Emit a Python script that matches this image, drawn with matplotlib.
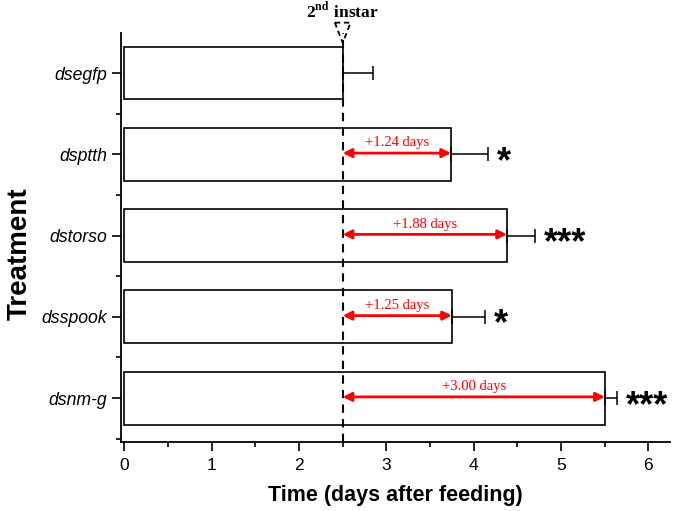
import numpy as np
import matplotlib.pyplot as plt
from matplotlib.ticker import MultipleLocator, FixedLocator

plt.rcParams['mathtext.fontset'] = 'stix'

treatments = ['dsegfp', 'dsptth', 'dstorso', 'dsspook', 'dsnm-g']
days = [2.5, 3.74, 4.38, 3.75, 5.5]
errors = [0.35, 0.42, 0.32, 0.38, 0.14]
delays = ['', '+1.24 days', '+1.88 days', '+1.25 days', '+3.00 days']
stars = ['', '*', '***', '*', '***']
instar_day = 2.5

fig = plt.figure(figsize=(6.75, 5.11), dpi=100)
ax = fig.add_axes([0.179, 0.135, 0.814, 0.80])

pos = np.arange(len(treatments))[::-1]
ax.barh(pos, days, height=0.65, color='white', edgecolor='black', linewidth=1.2, zorder=2)

# one-sided error bars
ax.errorbar(days, pos, xerr=[np.zeros(len(errors)), errors], fmt='none',
            ecolor='black', elinewidth=1.1, capsize=5, capthick=1.1, zorder=3)

# 2nd instar reference line with dashed triangle on top
ax.axvline(instar_day, color='black', linestyle=(0, (4, 3)), linewidth=1.5, zorder=4)
tri_x = [instar_day - 0.09, instar_day + 0.09, instar_day, instar_day - 0.09]
tri_y = [4.62, 4.62, 4.37, 4.62]
ax.plot(tri_x, tri_y, color='black', linestyle=(0, (3, 2)), linewidth=1.3,
        clip_on=False, zorder=5)
ax.text(instar_day, 4.68, r'2$^{\mathbf{nd}}$ instar', ha='center', va='baseline',
        fontsize=12.5, fontweight='bold', family='Liberation Serif',
        clip_on=False)

for p, d, e, lab, st in zip(pos, days, errors, delays, stars):
    if lab:
        ax.annotate('', xy=(d, p + 0.015), xytext=(instar_day, p + 0.015),
                    arrowprops=dict(arrowstyle='<|-|>', color='red', lw=2,
                                    mutation_scale=13, shrinkA=0, shrinkB=0),
                    zorder=6)
        ax.text((d + instar_day) / 2, p + 0.14, lab, color='red', ha='center',
                va='center', fontsize=10.5, family='Liberation Serif')
    if st:
        ax.text(d + e + 0.1, p - 0.1, st, ha='left', va='center',
                fontsize=26, fontweight='bold', family='Liberation Sans')

ax.set_xlim(-0.04, 6.25)
ax.set_ylim(-0.54, 4.49)
ax.xaxis.set_major_locator(FixedLocator([0, 1, 2, 3, 4, 5, 6]))
ax.xaxis.set_minor_locator(MultipleLocator(0.5))
ax.set_yticks(pos)
ax.set_yticklabels(treatments, fontstyle='italic', fontsize=12.7, family='Liberation Sans')
ax.yaxis.set_minor_locator(FixedLocator([0.5, 1.5, 2.5, 3.5, -0.5]))
for t in ax.get_xticklabels():
    t.set_family('Liberation Sans')
    t.set_fontsize(12.5)

ax.tick_params(axis='both', which='major', direction='out', length=6.5, width=1.2)
ax.tick_params(axis='both', which='minor', direction='out', length=3.5, width=1.2)
ax.tick_params(axis='x', pad=5)

ax.spines['top'].set_visible(False)
ax.spines['right'].set_visible(False)
ax.spines['left'].set_linewidth(1.3)
ax.spines['bottom'].set_linewidth(1.3)

ax.set_xlabel('Time (days after feeding)', fontsize=15.5, fontweight='bold',
              family='Liberation Sans')
ax.xaxis.set_label_coords(0.5, -0.105)
fig.text(20 / 675, 1 - 254 / 511, 'Treatment', rotation=90, ha='center', va='center',
         fontsize=20, fontweight='bold', family='Liberation Sans')

fig.savefig('out.png', dpi=100)
